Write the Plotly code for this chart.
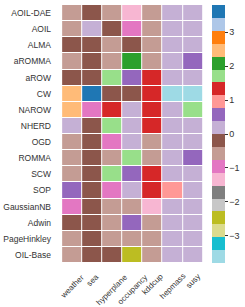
import plotly.graph_objects as go

models = ["AOIL-DAE", "AOIL", "ALMA", "aROMMA", "aROW", "CW", "NAROW", "NHERD",
          "OGD", "ROMMA", "SCW", "SOP", "GaussianNB", "Adwin", "PageHinkley", "OIL-Base"]
datasets = ["weather", "sea", "hyperplane", "occupancy", "kddcup", "hepmass", "susy"]

scores = [
    [-0.55, -0.2, -0.55, -1.3, -0.55, 0.2, 0.2],
    [-0.55, 0.2, -0.2, -0.95, -0.55, 0.2, 0.2],
    [-0.2, -0.2, -0.55, -0.2, -0.55, 0.2, 0.2],
    [-0.55, -0.2, -0.55, 2.1, -0.55, 0.2, 0.55],
    [-0.2, -0.2, 1.7, 0.55, 1.3, 0.2, 0.2],
    [2.5, 3.6, -0.2, -0.2, 1.3, -3.6, -3.6],
    [2.5, -0.95, 1.3, 0.2, 1.3, 0.2, 1.7],
    [0.2, -0.2, 1.7, 0.2, 1.3, 0.2, 0.2],
    [-0.55, -0.2, -0.95, 0.2, -0.55, 0.2, 0.2],
    [-0.55, -0.2, -0.55, 1.7, -0.55, 0.2, 0.55],
    [-0.55, -0.2, 1.7, 0.55, 1.3, 0.2, 0.2],
    [0.55, -0.2, -0.95, 0.2, 1.3, 0.95, 0.2],
    [-0.95, -0.2, -0.55, -0.55, -1.3, 0.2, 0.2],
    [-0.2, -0.2, -0.55, 0.55, -0.55, 0.2, 0.2],
    [-0.55, -0.2, -0.55, -0.55, -0.55, 0.2, 0.2],
    [-0.55, -0.2, -0.2, -2.5, -0.55, 0.2, 0.2],
]

zlim = 3.8
colorbar_ticks = [-3, -2, -1, 0, 1, 2, 3]

# tab20 reversed (bottom of colorbar -> top)
tab20 = ["#1f77b4", "#aec7e8", "#ff7f0e", "#ffbb78", "#2ca02c", "#98df8a",
         "#d62728", "#ff9896", "#9467bd", "#c5b0d5", "#8c564b", "#c49c94",
         "#e377c2", "#f7b6d2", "#7f7f7f", "#c7c7c7", "#bcbd22", "#dbdb8d",
         "#17becf", "#9edae5"]
cols = tab20[::-1]
n = len(cols)
colorscale = []
for i, c in enumerate(cols):
    colorscale.append([i / n, c])
    colorscale.append([(i + 1) / n, c])

FONT = "Liberation Sans, Arial, sans-serif"

fig = go.Figure(go.Heatmap(
    z=scores, x=datasets, y=models,
    zmin=-zlim, zmax=zlim,
    colorscale=colorscale,
    xgap=1, ygap=1,
    colorbar=dict(
        x=1.061, xanchor="left", xpad=0,
        y=0.5, yanchor="middle", ypad=0,
        len=1, lenmode="fraction",
        thickness=13, outlinewidth=0,
        tickvals=colorbar_ticks,
        ticks="outside", ticklen=3, tickwidth=1, tickcolor="#333",
        tickfont=dict(family=FONT, size=9, color="#333"),
    ),
))

annotations = [
    dict(text=d, x=d, xref="x", y=0, yref="paper", yshift=-8,
         xanchor="center", yanchor="top", textangle=-45, showarrow=False,
         borderpad=0,
         font=dict(family=FONT, size=8, color="#333"))
    for d in datasets
]

fig.update_layout(
    width=245, height=307,
    margin=dict(l=57, r=40, t=5, b=44),
    paper_bgcolor="white", plot_bgcolor="white",
    font=dict(family=FONT, size=8.5, color="#333"),
    annotations=annotations,
)
fig.update_xaxes(showticklabels=False, showgrid=False, zeroline=False, ticks="",
                 automargin=False)
fig.update_yaxes(autorange="reversed", showgrid=False, zeroline=False, ticks="",
                 tickfont=dict(size=8.5), ticklabelstandoff=5, automargin=False)

fig.write_html("out.html", config={"displayModeBar": False},
               post_script="document.body.style.margin='0';")
